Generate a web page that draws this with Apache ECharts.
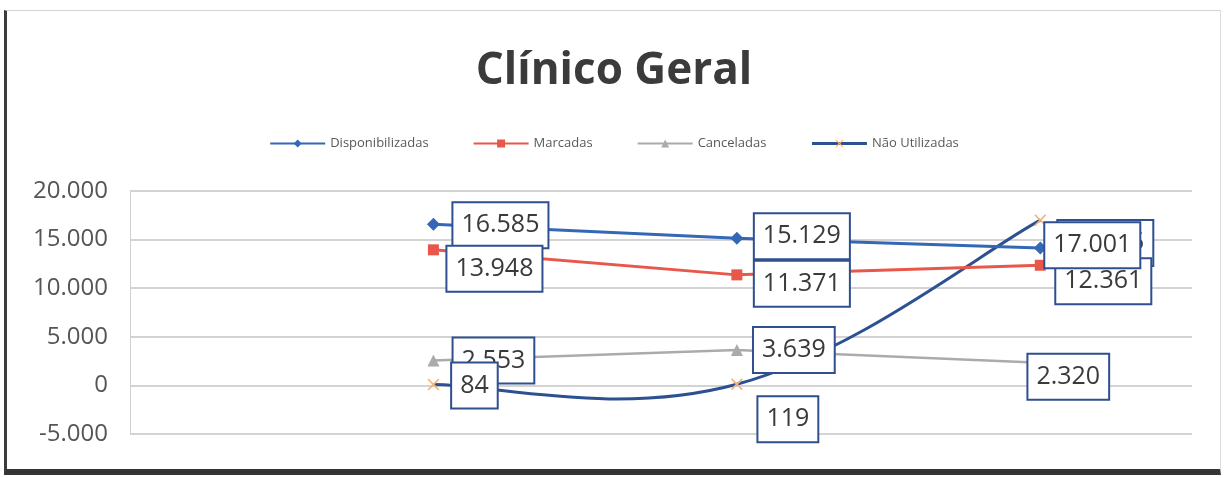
<!DOCTYPE html>
<html>
<head>
<meta charset="utf-8">
<script src="https://cdn.jsdelivr.net/npm/echarts@6/dist/echarts.min.js"></script>
<style>
  html, body { margin: 0; padding: 0; background: #ffffff; }
  #chart { position: absolute; left: 0; top: 0; width: 1228px; height: 478px; }
  #frame {
    position: absolute; left: 4px; top: 10px; width: 1213px; height: 458px;
    border-left: 3px solid #3c3c3c; border-bottom: 6px solid #353535;
    border-top: 1px solid #d4d4d4; border-right: 1px solid #dcdcdc;
    pointer-events: none;
  }
</style>
</head>
<body>
<div id="chart"></div>
<div id="frame"></div>
<script>
// Three reporting periods, placed at 1, 2, 3 on a hidden numeric x axis
const periods = [1, 2, 3];
const seriesNames = ['Disponibilizadas', 'Marcadas', 'Canceladas', 'Não Utilizadas'];
const disponibilizadas = [16585, 15129, 14135];
const marcadas = [13948, 11371, 12361];
const canceladas = [2553, 3639, 2320];
const naoUtilizadas = [84, 119, 17001];
const yTicks = [-5000, 0, 5000, 10000, 15000, 20000];

// pt-BR thousands separator
function fmt(v) {
  const s = String(Math.abs(Math.round(v))).replace(/\B(?=(\d{3})+(?!\d))/g, '.');
  return (v < 0 ? '-' : '') + s;
}

// Where each value box sits relative to its point
const labelShift = {
  'Disponibilizadas': [[67, 1], [65, -2], [65, -5]],
  'Marcadas': [[61, 19], [65, 9], [63, 16]],
  'Canceladas': [[60, 0], [57, 0], [28, 14]],
  'Não Utilizadas': [[41, 1], [51, 35], [52, 25]]
};

const labelBox = {
  show: true,
  position: 'inside',
  formatter: p => fmt(p.value[1]),
  fontFamily: 'Open Sans',
  fontSize: 25,
  lineHeight: 28,
  color: '#3a3a3a',
  backgroundColor: '#ffffff',
  borderColor: '#2f4f8f',
  borderWidth: 2,
  padding: [8, 8, 8, 8]
};

function points(name, values) {
  return values.map((v, i) => ({
    value: [periods[i], v],
    label: { offset: labelShift[name][i] }
  }));
}

const xMark = 'path://M0,1L1,0L5,4L9,0L10,1L6,5L10,9L9,10L5,6L1,10L0,9L4,5Z';
const naoColor = '#2c5193';

// Spreadsheet-style smoothed curve: cubic Bezier whose tangents follow the
// neighbouring points (Catmull-Rom), allowed to overshoot between points.
const TENSION = 1 / 5;
function renderSmoothCurve(params, api) {
  if (params.dataIndex !== 0) return null;
  const pts = naoUtilizadas.map((v, i) => api.coord([periods[i], v]));
  const n = pts.length;
  const children = [];
  for (let i = 0; i < n - 1; i++) {
    const p0 = pts[Math.max(i - 1, 0)];
    const p1 = pts[i];
    const p2 = pts[i + 1];
    const p3 = pts[Math.min(i + 2, n - 1)];
    children.push({
      type: 'bezierCurve',
      shape: {
        x1: p1[0], y1: p1[1], x2: p2[0], y2: p2[1],
        cpx1: p1[0] + (p2[0] - p0[0]) * TENSION,
        cpy1: p1[1] + (p2[1] - p0[1]) * TENSION,
        cpx2: p2[0] - (p3[0] - p1[0]) * TENSION,
        cpy2: p2[1] - (p3[1] - p1[1]) * TENSION
      },
      style: { stroke: naoColor, lineWidth: 3, fill: null }
    });
  }
  return { type: 'group', children };
}

const chart = echarts.init(document.getElementById('chart'), null, { renderer: 'canvas' });
chart.setOption({
  animation: false,
  backgroundColor: 'transparent',
  title: {
    text: 'Clínico Geral',
    left: 'center',
    top: 44,
    textStyle: { fontFamily: 'Open Sans', fontWeight: 'bold', fontSize: 44, color: '#3b3b3b' }
  },
  legend: {
    data: [
      'Disponibilizadas', 'Marcadas', 'Canceladas',
      { name: 'Não Utilizadas', lineStyle: { color: naoColor, width: 3, opacity: 1 } }
    ],
    top: 132,
    left: 'center',
    itemWidth: 55,
    itemHeight: 10,
    itemGap: 44,
    textStyle: { fontFamily: 'Open Sans', fontSize: 13, color: '#595959' }
  },
  grid: { left: 130, right: 36, top: 191, bottom: 44 },
  xAxis: {
    type: 'value', min: 0, max: 3.5,
    axisLine: { show: false }, axisTick: { show: false },
    axisLabel: { show: false }, splitLine: { show: false }
  },
  yAxis: {
    type: 'value', min: yTicks[0], max: yTicks[yTicks.length - 1], interval: 5000,
    axisLine: { show: true, lineStyle: { color: '#d0d0d0', width: 1 } },
    axisTick: { show: false },
    splitLine: { lineStyle: { color: '#c4c4c4', width: 1.5 } },
    axisLabel: {
      formatter: fmt, fontFamily: 'Open Sans', fontSize: 24, color: '#555555', margin: 22
    }
  },
  series: [
    {
      name: 'Disponibilizadas', type: 'line', data: points('Disponibilizadas', disponibilizadas),
      symbol: 'diamond', symbolSize: 13,
      lineStyle: { color: '#3567b7', width: 3 }, itemStyle: { color: '#3567b7' },
      label: labelBox
    },
    {
      name: 'Marcadas', type: 'line', data: points('Marcadas', marcadas),
      symbol: 'rect', symbolSize: 11,
      lineStyle: { color: '#e9574a', width: 3 }, itemStyle: { color: '#e9574a' },
      label: labelBox
    },
    {
      name: 'Canceladas', type: 'line', data: points('Canceladas', canceladas),
      symbol: 'triangle', symbolSize: 12,
      lineStyle: { color: '#ababab', width: 2.5 }, itemStyle: { color: '#ababab' },
      label: labelBox
    },
    {
      name: 'Não Utilizadas curva', type: 'custom',
      data: naoUtilizadas.map((v, i) => [periods[i], v]),
      renderItem: renderSmoothCurve,
      silent: true
    },
    {
      name: 'Não Utilizadas', type: 'line', data: points('Não Utilizadas', naoUtilizadas),
      symbol: xMark, symbolSize: 12,
      lineStyle: { color: naoColor, width: 3, opacity: 0 }, itemStyle: { color: '#f5b47c' },
      label: labelBox
    }
  ]
});
</script>
</body>
</html>
